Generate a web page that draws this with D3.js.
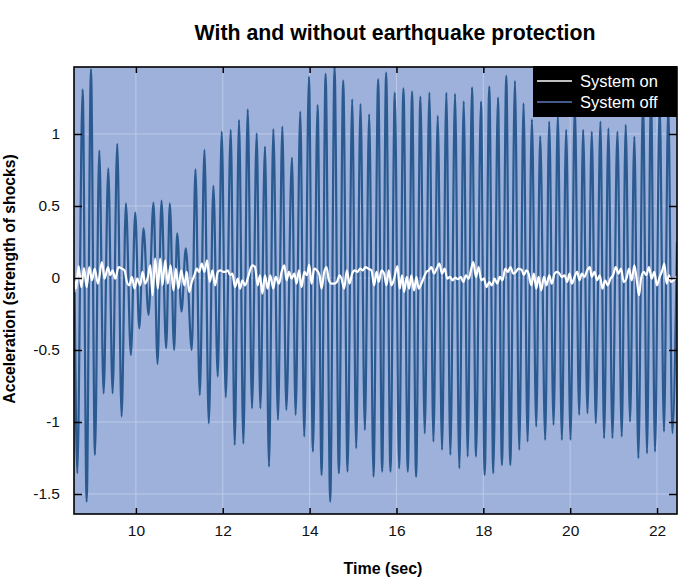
<!DOCTYPE html>
<html><head><meta charset="utf-8">
<script src="https://cdn.jsdelivr.net/npm/d3@7"></script>
<style>body{margin:0;background:#fff} svg{display:block}</style>
</head><body><svg id="c" width="700" height="578"></svg>
<script>
// ---- data ----
const offTime = [8.59,8.651,8.774,8.866,8.966,9.057,9.157,9.257,9.364,9.464,9.571,9.671,9.770,9.885,9.985,10.077,10.176,10.291,10.406,10.498,10.590,10.697,10.782,
10.881,10.950,11.050,11.149,11.287,11.372,11.471,11.579,11.678,11.785,11.885,11.977,12.069,12.184,12.276,12.375,12.475,12.575,12.674,12.782,12.866,12.973,13.065,13.165,
13.272,13.372,13.464,13.594,13.678,13.785,13.877,13.985,14.077,14.184,14.276,14.368,14.475,14.575,14.674,14.774,14.874,14.981,15.073,15.172,15.272,15.372,15.471,
15.579,15.671,15.762,15.862,15.962,16.061,16.161,16.261,16.360,16.452,16.552,16.651,16.759,16.851,16.950,17.050,17.149,17.241,17.349,17.448,17.548,17.640,17.740,
17.832,17.947,18.031,18.138,18.230,18.337,18.429,18.529,18.621,18.728,18.828,18.927,19.019,19.119,19.218,19.310,19.425,19.517,19.617,19.717,19.808,19.908,20.008,
20.107,20.207,20.299,20.398,20.498,20.590,20.697,20.781,20.881,20.973,21.088,21.187,21.279,21.379,21.478,21.570,21.678,21.769,21.861,21.953,22.061,22.160,22.260,22.352,22.46];
const offAccel = [-0.10,-1.356,1.310,-1.553,1.449,-1.229,0.884,-0.801,0.762,-0.801,0.931,-0.963,0.519,-0.535,0.454,-0.350,0.345,-0.257,0.523,-0.597,0.537,-0.488,0.519,
-0.500,0.310,-0.234,0.206,-0.500,0.755,-0.813,0.889,-1.009,0.639,-0.685,1.016,-0.829,1.028,-1.160,1.097,-1.150,1.171,-0.905,1.005,-0.905,0.912,-1.310,1.034,
-0.986,1.051,-0.917,0.836,-0.951,1.155,-1.102,1.398,-1.206,1.201,-1.368,1.417,-1.553,1.463,-1.356,1.370,-1.345,1.241,-1.183,1.208,-1.056,1.137,-1.380,
1.380,-1.345,1.426,-1.345,1.287,-1.322,1.317,-1.345,1.294,-1.380,1.259,-1.079,1.287,-1.137,1.125,-1.194,1.287,-1.229,1.278,-1.322,1.227,-1.241,1.324,
-1.241,1.225,-1.368,1.329,-1.356,1.252,-1.299,1.403,-1.299,1.368,-1.194,1.213,-1.137,1.102,-1.032,0.986,-1.125,1.086,-1.021,1.132,-1.125,1.028,-1.125,
1.20,-0.951,1.028,-0.940,1.016,-1.009,1.086,-1.113,1.039,-1.113,1.016,-1.102,1.063,-0.998,0.981,-1.252,1.25,-1.218,1.30,-1.206,1.20,-1.067,1.20,-1.079,0.25];

const onTime = [8.59,8.621,8.682,8.744,8.805,8.866,8.927,8.989,9.050,9.127,9.218,9.280,9.356,9.410,9.464,9.525,9.602,9.678,9.739,9.793,9.847,9.908,9.969,10.030,10.099,10.153,10.215,10.276,10.330,10.383,10.444,10.506,10.559,10.613,10.674,10.735,10.797,10.866,10.919,10.980,11.042,11.118,11.172,11.226,11.287,11.348,11.402,11.456,11.517,11.578,11.640,11.701,11.762,11.824,11.885,11.946,12.022,
12.054,12.115,12.169,12.222,12.283,12.345,12.398,12.452,12.513,12.574,12.628,12.682,12.743,12.804,12.858,12.912,12.973,13.034,13.095,13.164,13.218,13.295,13.356,13.417,13.471,13.524,13.586,13.647,13.701,13.754,13.815,13.877,13.938,13.992,14.045,14.107,14.168,14.229,14.275,14.336,14.390,14.444,14.505,14.566,14.627,14.689,14.735,14.796,14.857,14.919,14.980,15.041,15.102,15.164,15.225,15.286,15.347,15.424,
15.486,15.540,15.594,15.655,15.716,15.770,15.823,15.885,15.946,16.022,16.076,16.130,16.176,16.237,16.291,16.344,16.405,16.459,16.513,16.574,16.635,16.689,16.743,16.804,16.865,16.926,16.988,17.049,17.110,17.171,17.233,17.294,17.355,17.417,17.478,17.539,17.600,17.662,17.723,17.769,17.830,17.892,17.953,18.014,18.075,18.137,18.198,18.259,18.320,18.382,18.443,18.504,18.566,18.627,18.688,18.749,18.811,18.888,
18.935,18.989,19.043,19.104,19.165,19.219,19.272,19.334,19.395,19.456,19.517,19.579,19.640,19.701,19.755,19.809,19.870,19.931,19.985,20.038,20.100,20.161,20.215,20.268,20.329,20.391,20.452,20.498,20.559,20.620,20.682,20.743,20.804,20.866,20.927,20.988,21.050,21.111,21.172,21.233,21.295,21.356,21.417,21.478,21.540,21.586,21.632,21.693,21.754,21.815,21.877,21.938,21.999,22.061,22.122,22.168,22.222,22.275,22.321,22.413,22.46];
const onAccel = [-0.02,-0.074,0.083,-0.063,0.069,-0.063,0.076,-0.016,0.065,-0.039,0.111,-0.005,0.076,0.019,0.053,-0.005,0.076,0.065,0.053,-0.028,-0.051,0.007,-0.074,-0.005,-0.051,0.042,-0.039,0.007,0.088,-0.120,0.134,-0.074,0.134,-0.051,0.123,-0.039,0.088,-0.086,0.065,-0.074,0.053,-0.051,0.042,-0.097,-0.028,0.019,0.065,0.042,0.100,0.042,0.123,-0.028,0.053,-0.051,0.042,0.053,0.042,
0.042,0.053,0.019,0.030,-0.063,-0.005,-0.074,-0.016,-0.051,-0.005,0.053,0.088,0.076,-0.051,0.019,-0.109,0.019,-0.074,0.019,-0.074,0.007,-0.039,0.042,0.088,-0.016,0.042,-0.005,0.030,-0.039,0.053,-0.063,0.042,0.019,0.093,-0.039,0.065,0.053,0.019,-0.074,0.042,0.076,-0.016,-0.039,-0.039,-0.028,0.019,-0.005,-0.074,0.053,-0.039,0.030,0.053,0.042,0.065,0.053,0.076,0.065,0.053,
-0.051,0.042,-0.028,0.053,0.030,-0.051,0.053,-0.051,-0.005,0.083,-0.074,0.019,-0.097,0.007,-0.074,0.019,-0.086,0.007,-0.074,-0.039,0.007,0.042,0.053,0.076,0.030,0.065,0.100,0.030,0.065,-0.005,0.007,-0.016,0.002,-0.009,0.007,-0.028,0.019,-0.005,0.065,0.111,0.007,0.076,-0.016,-0.005,-0.063,-0.028,-0.051,-0.005,-0.039,0.007,-0.016,0.065,0.042,0.076,0.030,0.042,0.065,0.053,
0.019,0.053,0.030,-0.051,0.030,-0.074,0.007,-0.086,0.007,-0.051,0.019,-0.039,0.030,0.042,0.030,0.007,0.019,-0.028,0.030,-0.039,0.007,0.042,-0.016,0.030,0.007,0.053,0.076,0.007,0.042,-0.016,0.019,-0.074,-0.016,-0.051,-0.005,0.019,0.076,0.030,0.065,-0.028,-0.005,0.065,-0.016,0.088,-0.028,-0.120,-0.005,0.042,0.019,0.076,-0.005,0.042,-0.051,0.007,0.053,0.100,-0.039,0.019,-0.028,-0.005,0.01];

const xTickValues = [10, 12, 14, 16, 18, 20, 22];
const xTickLabels = ["10", "12", "14", "16", "18", "20", "22"];
const yTickValues = [-1.5, -1, -0.5, 0, 0.5, 1];
const yTickLabels = ["-1.5", "-1", "-0.5", "0", "0.5", "1"];
const seriesNames = ["System on", "System off"];
const titleText = "With and without earthquake protection";
const xLabelText = "Time (sec)";
const yLabelText = "Acceleration (strength of shocks)";

// ---- layout ----
const W = 700, H = 578;
const m = {l: 74, r: 23, t: 67, b: 64};
const FONT = "'Liberation Sans', Arial, Helvetica, sans-serif";
const svg = d3.select("#c");

const x = d3.scaleLinear().domain([8.575, 22.46]).range([m.l, W - m.r]);
const y = d3.scaleLinear().domain([-1.639, 1.465]).range([H - m.b, m.t]);

const offData = offTime.map((t, i) => ({t, v: offAccel[i]}));
const onData = onTime.map((t, i) => ({t, v: onAccel[i]}));

svg.append("defs").append("clipPath").attr("id", "clip")
  .append("rect").attr("x", m.l).attr("y", m.t)
  .attr("width", W - m.r - m.l).attr("height", H - m.b - m.t);

// background
svg.append("rect").attr("x", m.l).attr("y", m.t)
  .attr("width", W - m.r - m.l).attr("height", H - m.b - m.t)
  .attr("fill", "#9db1da");

// grid
const grid = svg.append("g").attr("stroke", "#bccaea").attr("stroke-width", 1);
grid.selectAll(".gx").data(xTickValues).join("line")
  .attr("x1", d => x(d)).attr("x2", d => x(d)).attr("y1", m.t).attr("y2", H - m.b);
grid.selectAll(".gy").data(yTickValues).join("line")
  .attr("y1", d => y(d)).attr("y2", d => y(d)).attr("x1", m.l).attr("x2", W - m.r);

// lines
const line = d3.line().x(d => x(d.t)).y(d => y(d.v)).curve(d3.curveMonotoneX);
const lines = svg.append("g").attr("clip-path", "url(#clip)");
lines.append("path").datum(offData).attr("d", line)
  .attr("fill", "none").attr("stroke", "#2a5a90").attr("stroke-width", 2.2).attr("stroke-linejoin", "round");
lines.append("path").datum(onData).attr("d", line)
  .attr("fill", "none").attr("stroke", "#ffffff").attr("stroke-width", 2.2).attr("stroke-linejoin", "round");

// axes
const styleAxis = g => {
  g.select(".domain").remove();
  g.selectAll(".tick line").attr("stroke", "#000").attr("stroke-width", 1.5);
  g.selectAll(".tick text").attr("fill", "#111").style("font-family", FONT).style("font-size", "15.5px");
};
svg.append("g").attr("transform", `translate(0,${H - m.b})`)
  .call(d3.axisBottom(x).tickValues(xTickValues).tickFormat((d, i) => xTickLabels[i]).tickSize(-6).tickPadding(11))
  .call(styleAxis);
svg.append("g").attr("transform", `translate(0,${m.t})`)
  .call(d3.axisTop(x).tickValues(xTickValues).tickFormat("").tickSize(-6))
  .call(styleAxis);
svg.append("g").attr("transform", `translate(${m.l},0)`)
  .call(d3.axisLeft(y).tickValues(yTickValues).tickFormat((d, i) => yTickLabels[i]).tickSize(-8).tickPadding(14))
  .call(styleAxis);
svg.append("g").attr("transform", `translate(${W - m.r},0)`)
  .call(d3.axisRight(y).tickValues(yTickValues).tickFormat("").tickSize(-8))
  .call(styleAxis);

// frame
svg.append("rect").attr("x", m.l).attr("y", m.t)
  .attr("width", W - m.r - m.l).attr("height", H - m.b - m.t)
  .attr("fill", "none").attr("stroke", "#000").attr("stroke-width", 1.6);

// legend
const lg = svg.append("g");
lg.append("rect").attr("x", 533).attr("y", 66).attr("width", W - m.r - 533).attr("height", 51).attr("fill", "#000");
const legColors = ["#ffffff", "#5a78b8"];
seriesNames.forEach((name, i) => {
  const yy = 81 + i * 21;
  lg.append("line").attr("x1", 537).attr("x2", 572).attr("y1", yy).attr("y2", yy)
    .attr("stroke", legColors[i]).attr("stroke-width", 1.6);
  lg.append("text").attr("x", 580).attr("y", yy + 5.5).text(name)
    .attr("fill", "#fff").style("font-family", FONT).style("font-size", "16.5px");
});

// title & labels
svg.append("text").attr("x", 395).attr("y", 40).attr("text-anchor", "middle").text(titleText)
  .style("font-family", FONT).style("font-size", "21.3px").style("font-weight", "bold").attr("fill", "#000");
svg.append("text").attr("x", 383).attr("y", 574).attr("text-anchor", "middle").text(xLabelText)
  .style("font-family", FONT).style("font-size", "16px").style("font-weight", "bold").attr("fill", "#000");
svg.append("text").attr("transform", "translate(15,279) rotate(-90)").attr("text-anchor", "middle").text(yLabelText)
  .style("font-family", FONT).style("font-size", "15.7px").style("font-weight", "bold").attr("fill", "#000");
</script></body></html>
